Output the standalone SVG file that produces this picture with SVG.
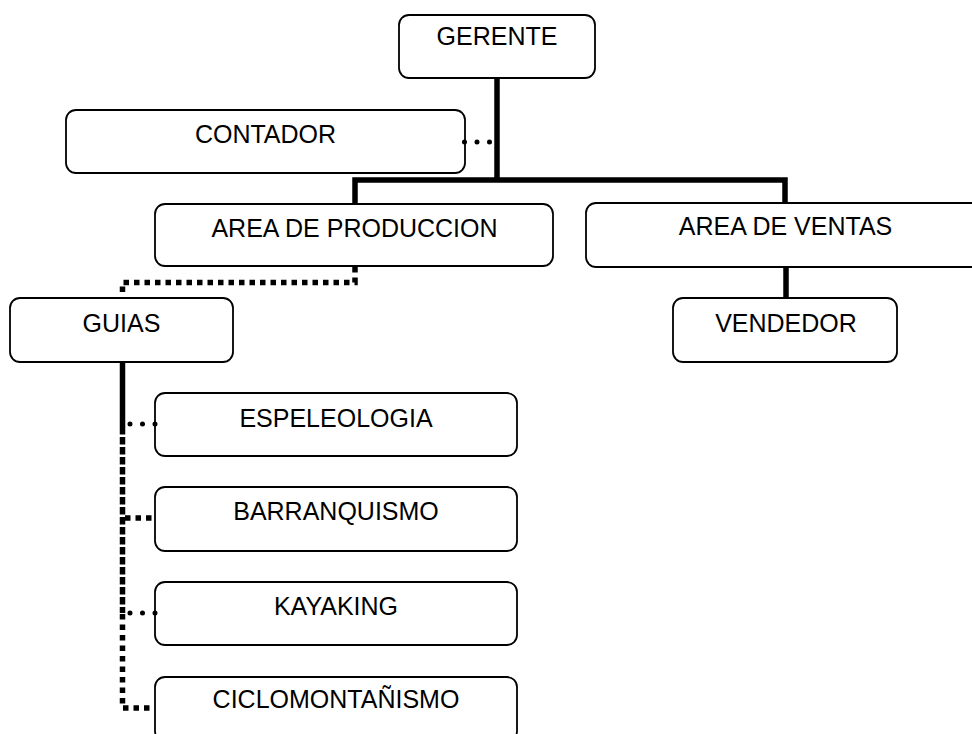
<svg xmlns="http://www.w3.org/2000/svg" width="972" height="734" viewBox="0 0 972 734">
<style>
.box{fill:#fff;stroke:#000;stroke-width:1.8}
.t{font-family:"Liberation Sans",Arial,sans-serif;font-size:25px;fill:#000;text-anchor:middle}
.solid{fill:none;stroke:#000;stroke-width:5.5}
.rdot{fill:none;stroke:#000;stroke-width:5;stroke-linecap:round;stroke-dasharray:0 12.5}
.sq{fill:none;stroke:#000;stroke-width:5.5;stroke-dasharray:5.5 5}
.dense{fill:none;stroke:#000;stroke-width:5.5;stroke-dasharray:7.5 2.5}
</style>
<rect width="972" height="734" fill="#fff"/>
<g id="gerente"><rect class="box" x="399" y="15" width="196" height="63" rx="10"/><text class="t" x="497" y="45">GERENTE</text></g>
<g id="contador"><rect class="box" x="66" y="110" width="399" height="63" rx="10"/><text class="t" x="265.5" y="143">CONTADOR</text></g>
<g id="area-produccion"><rect class="box" x="155" y="204" width="398" height="62" rx="10"/><text class="t" x="354.5" y="237">AREA DE PRODUCCION</text></g>
<g id="area-ventas"><rect class="box" x="586" y="203" width="398" height="64" rx="10"/><text class="t" x="785.5" y="235">AREA DE VENTAS</text></g>
<g id="vendedor"><rect class="box" x="673" y="298" width="224" height="64" rx="10"/><text class="t" x="786" y="332">VENDEDOR</text></g>
<g id="guias"><rect class="box" x="10" y="298" width="223" height="64" rx="10"/><text class="t" x="121.5" y="332">GUIAS</text></g>
<g id="espeleologia"><rect class="box" x="155" y="393" width="362" height="63" rx="10"/><text class="t" x="336" y="427">ESPELEOLOGIA</text></g>
<g id="barranquismo"><rect class="box" x="155" y="487" width="362" height="64" rx="10"/><text class="t" x="336" y="520">BARRANQUISMO</text></g>
<g id="kayaking"><rect class="box" x="155" y="582" width="362" height="63" rx="10"/><text class="t" x="336" y="615">KAYAKING</text></g>
<g id="ciclomontanismo"><rect class="box" x="155" y="677" width="362" height="64" rx="10"/><text class="t" x="336" y="708">CICLOMONTAÑISMO</text></g>
<g id="connectors">
<path class="solid" d="M497 79 V180"/>
<path class="solid" d="M355 203 V180 H785 V202"/>
<path class="rdot" d="M464.5 142 H490.5"/>
<path class="solid" d="M786 268 V297"/>
<path class="sq" d="M355 267 V282.5 H122.5 V297"/>
<path class="solid" d="M122.5 363 V427"/>
<path class="dense" d="M122.5 427 V613"/>
<path class="sq" d="M122.5 614 V708 H153"/>
<path class="rdot" d="M130 424 H156"/>
<path class="sq" d="M125 518 H153"/>
<path class="rdot" d="M130 613 H156"/>
</g>
</svg>
